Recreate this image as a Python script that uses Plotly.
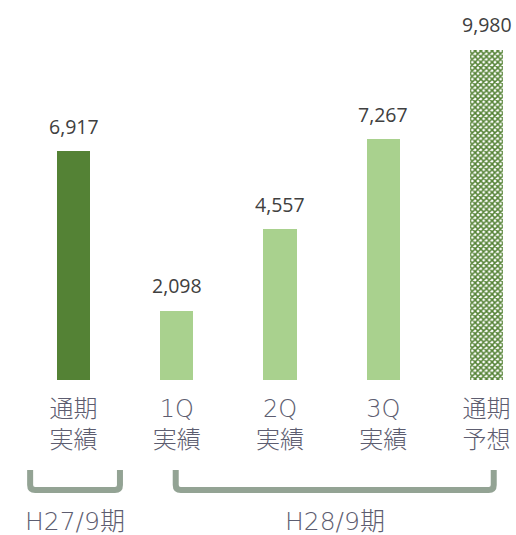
import plotly.graph_objects as go

# ---- data ----
categories = ["通期<br>実績", "1Q<br>実績", "2Q<br>実績", "3Q<br>実績", "通期<br>予想"]
values = [6917, 2098, 4557, 7267, 9980]
value_labels = ["6,917", "2,098", "4,557", "7,267", "9,980"]
groups = ["H27/9期", "H28/9期"]
group_first = [0, 1]
group_last = [0, 4]

# ---- style ----
dark_green = "#548235"
light_green = "#A9D18E"
bar_colors = [dark_green, light_green, light_green, light_green, dark_green]
text_gray = "#5d5d70"
bracket_color = "#93A394"
label_font = "DejaVu Sans, Noto Sans CJK JP, sans-serif"
W, H = 516, 535
plot_h = 380  # px from figure top to axis baseline
px_per_unit = 0.0331
x_px_unit = 103.25
x0_px = 73.5

xs = list(range(len(values)))

fig = go.Figure()
fig.add_trace(go.Bar(
    x=xs, y=values, width=0.32,
    marker=dict(
        color=bar_colors,
        line=dict(width=0),
        pattern=dict(
            shape=["", "", "", "", "x"],
            bgcolor="white",
            size=4, solidity=0.62, fillmode="replace",
        ),
    ),
    hoverinfo="skip",
))

for x, v, t in zip(xs, values, value_labels):
    fig.add_annotation(x=x, y=v, text=t, showarrow=False, yanchor="middle",
                       yshift=25, font=dict(family="Open Sans, sans-serif", size=19.5, color="#404040"))

def py(px):
    return (plot_h - px) / plot_h

pads = [(-0.42, 0.45), (-0.01, 0.07)]
for g, a, b, (pl, pr) in zip(groups, group_first, group_last, pads):
    xl, xr = a + pl, b + pr
    yt, yb = py(470), py(490)
    rx, ry = 5 / x_px_unit, 5 / plot_h
    path = (f"M {xl},{yt} L {xl},{yb + ry} Q {xl},{yb} {xl + rx},{yb} "
            f"L {xr - rx},{yb} Q {xr},{yb} {xr},{yb + ry} L {xr},{yt}")
    fig.add_shape(type="path", path=path, xref="x", yref="paper",
                  line=dict(color=bracket_color, width=6))
    fig.add_annotation(x=(xl + xr) / 2, y=py(521), xref="x", yref="paper", text=g,
                       showarrow=False, yanchor="middle",
                       font=dict(family=label_font, size=25, color=text_gray, weight=200))

fig.update_layout(
    width=W, height=H,
    margin=dict(l=0, r=0, t=0, b=H - plot_h, pad=0),
    paper_bgcolor="white", plot_bgcolor="white",
    showlegend=False, bargap=0,
    xaxis=dict(range=[-x0_px / x_px_unit, (W - x0_px) / x_px_unit],
               tickvals=xs, ticktext=categories, showgrid=False, zeroline=False,
               showline=False, ticks="", ticklabelstandoff=12, fixedrange=True,
               tickfont=dict(family=label_font, size=24, color=text_gray, weight=200)),
    yaxis=dict(range=[0, plot_h / px_per_unit], visible=False, fixedrange=True),
)

fig.write_html(
    "out.html",
    config={"displayModeBar": False},
    post_script="document.body.style.margin='0';document.documentElement.style.overflow='hidden';",
)
